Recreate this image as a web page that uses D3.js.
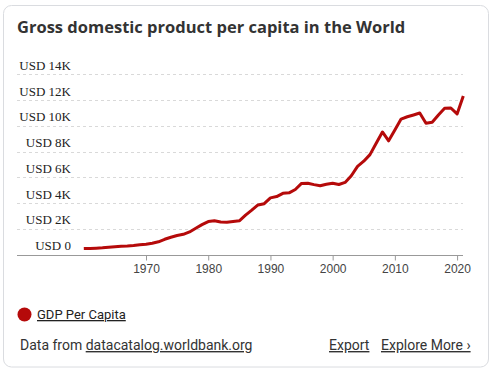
<!DOCTYPE html>
<html>
<head>
<meta charset="utf-8">
<script src="https://cdn.jsdelivr.net/npm/d3@7"></script>
<style>
  html, body { margin: 0; padding: 0; background: #fff; }
  svg { display: block; }
  .grid line { stroke: #d9d9d9; stroke-dasharray: 3,3; }
  .ylab text { font-family: "Liberation Serif", "Times New Roman", serif; font-size: 13px; fill: #222; }
  .xaxis text { font-family: "Liberation Sans", Arial, sans-serif; font-size: 12px; fill: #444; }
  .xaxis line, .xaxis path { stroke: #999; }
</style>
</head>
<body>
<svg id="chart" width="494" height="370"></svg>
<script>
// World GDP per capita, current USD
var years = d3.range(1960, 2022);
var gdp = [459, 472, 495, 521, 560, 598, 636, 662, 700, 761,
           803, 874, 989, 1183, 1342, 1474, 1566, 1751, 2034, 2320,
           2560, 2620, 2520, 2510, 2560, 2620, 3058, 3444, 3850, 3950,
           4400, 4500, 4750, 4790, 5050, 5520, 5540, 5430, 5340, 5460,
           5540, 5440, 5600, 6120, 6850, 7250, 7760, 8650, 9520, 8830,
           9680, 10520, 10700, 10840, 10990, 10190, 10270, 10840, 11360, 11380,
           10920, 12320];
var yTicks = [0, 2000, 4000, 6000, 8000, 10000, 12000, 14000];
var xTicks = [1970, 1980, 1990, 2000, 2010, 2020];
var seriesName = "GDP Per Capita";
var lineColor = "#b50a0a";

var svg = d3.select("#chart");

// card
svg.append("rect")
    .attr("x", 3.5).attr("y", 5.5)
    .attr("width", 485).attr("height", 361.5)
    .attr("rx", 8)
    .attr("fill", "#fff")
    .attr("stroke", "#dadce0");

var title = svg.append("text")
    .attr("x", 17).attr("y", 33)
    .attr("font-family", "'Open Sans', Roboto, sans-serif")
    .attr("font-weight", "bold")
    .attr("font-size", "16.5px")
    .attr("fill", "#333")
    .text("Gross domestic product per capita in the World");
// stretch to the reference width if the font comes out narrower/wider
var tw = title.node().getComputedTextLength();
if (Math.abs(tw - 385) > 4) {
    title.attr("textLength", 385).attr("lengthAdjust", "spacingAndGlyphs");
}

var x = d3.scaleLinear().domain([1960, 2021]).range([83.8, 463.3]);
var y = d3.scaleLinear().domain([0, 14000]).range([254.5, 74.3]);

// dashed gridlines
svg.append("g").attr("class", "grid")
  .selectAll("line").data(yTicks.filter(function(d) { return d > 0; }))
  .enter().append("line")
    .attr("x1", 17).attr("x2", 463)
    .attr("y1", function(d) { return Math.round(y(d)) + 0.5; })
    .attr("y2", function(d) { return Math.round(y(d)) + 0.5; });

// y labels sit above their gridline
svg.append("g").attr("class", "ylab")
  .selectAll("text").data(yTicks)
  .enter().append("text")
    .attr("x", 71)
    .attr("y", function(d) { return y(d) - 4.5; })
    .attr("text-anchor", "end")
    .text(function(d) { return d === 0 ? "USD 0" : "USD " + (d / 1000) + "K"; });

// x axis
var xAxis = d3.axisBottom(x).tickValues(xTicks).tickFormat(d3.format("d"))
    .tickSize(5).tickSizeOuter(0).tickPadding(4);
var gx = svg.append("g").attr("class", "xaxis")
    .attr("transform", "translate(0," + (Math.round(y(0)) + 0.5) + ")")
    .call(xAxis);
gx.select(".domain").remove();
gx.append("line").attr("x1", 17).attr("x2", 463).attr("stroke", "#999");

var line = d3.line()
    .x(function(d, i) { return x(years[i]); })
    .y(function(d) { return y(d); });

svg.append("path")
    .datum(gdp)
    .attr("fill", "none")
    .attr("stroke", lineColor)
    .attr("stroke-width", 3)
    .attr("stroke-linejoin", "round")
    .attr("d", line);

// legend
svg.append("circle").attr("cx", 24.5).attr("cy", 314.5).attr("r", 7).attr("fill", lineColor);
svg.append("text")
    .attr("x", 37).attr("y", 319)
    .attr("font-family", "Roboto, sans-serif")
    .attr("font-size", "13px")
    .attr("fill", "#222")
    .attr("text-decoration", "underline")
    .text(seriesName);

// footer
var foot = svg.append("g")
    .attr("font-family", "Roboto, sans-serif")
    .attr("font-size", "14px")
    .attr("fill", "#333");
var src = foot.append("text").attr("x", 20).attr("y", 350);
src.append("tspan").text("Data from ");
src.append("tspan").attr("text-decoration", "underline").text("datacatalog.worldbank.org");
foot.append("text").attr("x", 329).attr("y", 350)
    .attr("text-decoration", "underline").text("Export");
foot.append("text").attr("x", 381).attr("y", 350)
    .attr("text-decoration", "underline").text("Explore More \u203a");
</script>
</body>
</html>
